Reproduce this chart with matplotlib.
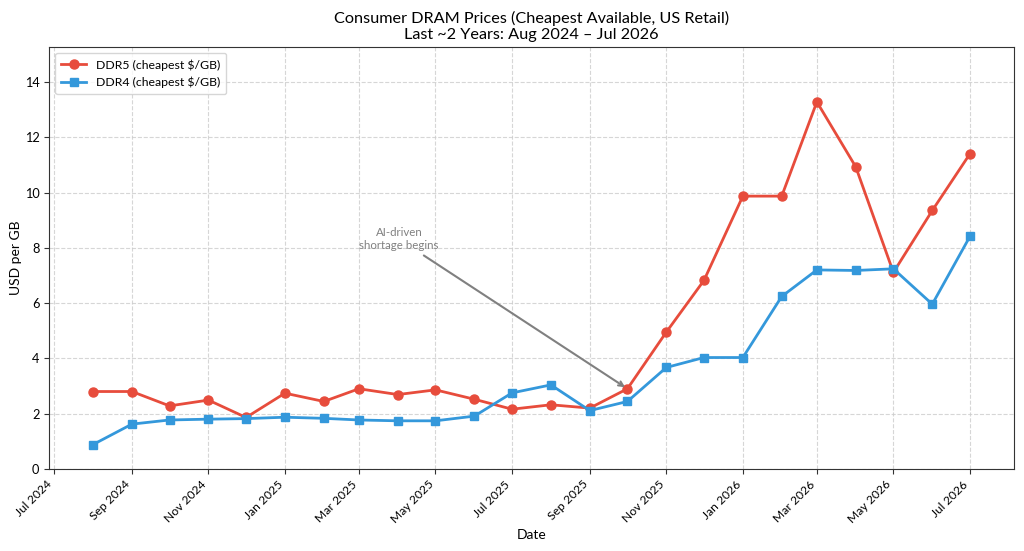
import matplotlib
matplotlib.use("Agg")
import matplotlib.pyplot as plt
import matplotlib.dates as mdates
import pandas as pd

plt.rcParams['font.family'] = ['Lato', 'DejaVu Sans']

months = pd.date_range('2024-08-01', '2026-07-01', freq='MS')

ddr5 = [2.80, 2.80, 2.28, 2.49, 1.86, 2.74, 2.44, 2.90, 2.69, 2.86, 2.52, 2.16,
        2.32, 2.20, 2.90, 4.95, 6.82, 9.87, 9.87, 13.28, 10.93, 7.11, 9.35, 11.40]
ddr4 = [0.88, 1.62, 1.77, 1.80, 1.82, 1.87, 1.83, 1.77, 1.74, 1.74, 1.91, 2.75,
        3.04, 2.11, 2.44, 3.67, 4.03, 4.03, 6.24, 7.20, 7.18, 7.24, 5.96, 8.41]

red = '#e74c3c'
blue = '#3498db'

fig, ax = plt.subplots(figsize=(10.24, 5.51), dpi=100)
fig.subplots_adjust(left=0.048, right=0.990, top=0.915, bottom=0.149)

ax.plot(months, ddr5, color=red, marker='o', lw=2, ms=6.5, label='DDR5 (cheapest $/GB)')
ax.plot(months, ddr4, color=blue, marker='s', lw=2, ms=6, label='DDR4 (cheapest $/GB)')

ax.set_ylim(0, max(ddr5) * 1.15)
ax.xaxis.set_major_locator(mdates.MonthLocator(bymonth=[1, 3, 5, 7, 9, 11]))
ax.xaxis.set_major_formatter(mdates.DateFormatter('%b %Y'))
ax.tick_params(labelsize=8.7, color='#333333')
ax.tick_params(axis='y', labelsize=9.2)
plt.setp(ax.get_xticklabels(), rotation=45, ha='right')

ax.grid(True, linestyle='--', color='#cccccc', alpha=0.8)
ax.set_xlabel('Date', fontsize=10, labelpad=3)
ax.set_ylabel('USD per GB', fontsize=10, labelpad=2)
ax.set_title('Consumer DRAM Prices (Cheapest Available, US Retail)\nLast ~2 Years: Aug 2024 – Jul 2026',
             fontsize=11.7, linespacing=1.15)

# annotate the start of the shortage at the Oct 2025 DDR5 point
ax.annotate('AI-driven\nshortage begins', xy=(months[14], ddr5[14]),
            xytext=(months[14] - pd.Timedelta(days=182), 7.95),
            ha='center', fontsize=8.3, color='gray',
            arrowprops=dict(arrowstyle='->', color='gray', lw=1.5))

ax.legend(loc='upper left', fontsize=8.8, borderpad=0.5)
for s in ax.spines.values():
    s.set_color('#333333')

fig.savefig('out.png', dpi=100)
